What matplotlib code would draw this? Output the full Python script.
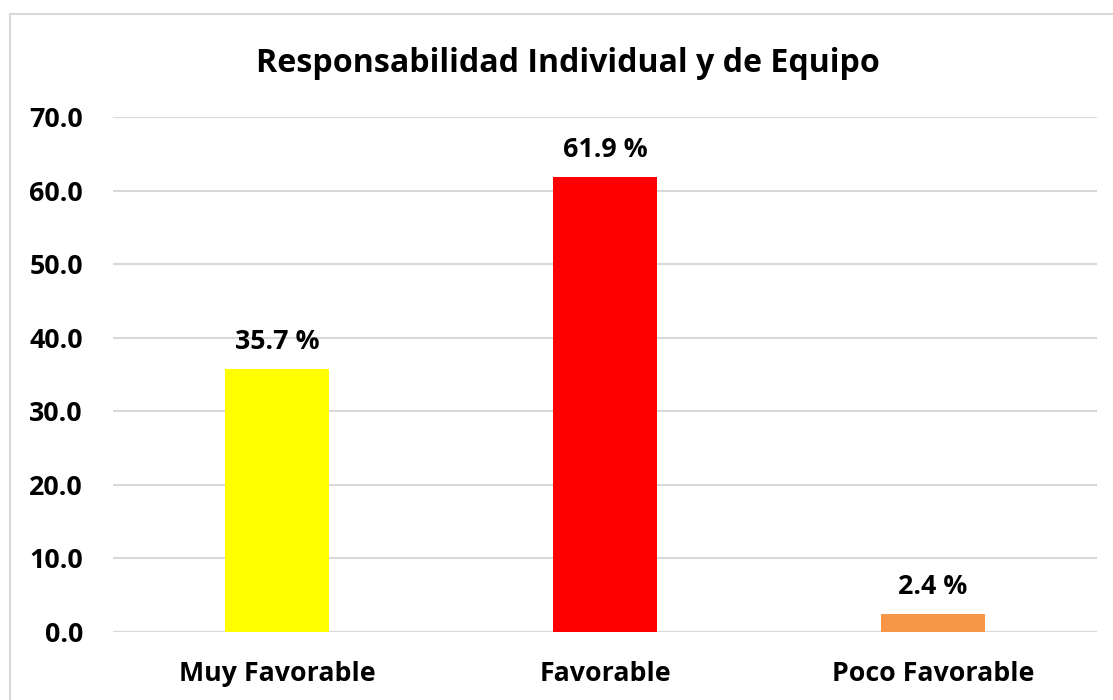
import matplotlib
matplotlib.use("Agg")
import matplotlib.pyplot as plt
from matplotlib.patches import Rectangle

categories = ["Muy Favorable", "Favorable", "Poco Favorable"]
values = [35.7, 61.9, 2.4]
colors = ["#FFFF00", "#FF0000", "#F79646"]
yticks = [0, 10, 20, 30, 40, 50, 60, 70]
title = "Responsabilidad Individual y de Equipo"

plt.rcParams['font.family'] = ['Open Sans', 'DejaVu Sans']
plt.rcParams['font.weight'] = 'bold'

W, H = 1113, 700
fig = plt.figure(figsize=(W/100, H/100), dpi=100)
fig.patch.set_facecolor("white")

# outer chart border
fig.patches.append(Rectangle((9.5/W, -0.05), 1.2, (H-13.5)/H + 0.05, transform=fig.transFigure,
                             fill=False, edgecolor="#D9D9D9", linewidth=1.5, zorder=0))

left, right = 113/W, 1097/W
bottom, top = (H-632)/H, (H-117)/H
ax = fig.add_axes([left, bottom, right-left, top-bottom])

x = range(len(categories))
ax.bar(x, values, width=0.317, color=colors, zorder=3)
ax.set_xlim(-0.5, 2.5)
ax.set_ylim(0, 70)
ax.set_yticks(yticks)
fs = 19.3
ax.set_yticklabels([f"{v:.1f}" for v in yticks], fontsize=fs, fontweight='bold')
ax.set_xticks(list(x))
ax.set_xticklabels(categories, fontsize=fs, fontweight='bold')
ax.tick_params(axis='both', length=0)
ax.tick_params(axis='y', pad=21.6)
ax.tick_params(axis='x', pad=21)
for s in ax.spines.values():
    s.set_visible(False)
ax.grid(axis='y', color="#D9D9D9", linewidth=1.5, zorder=0)
ax.set_axisbelow(True)

for xi, v in zip(x, values):
    ax.annotate(f"{v:.1f} %", (xi, v), xytext=(0, 14.4), textcoords='offset points',
                ha='center', va='baseline', fontsize=fs, fontweight='bold')

fig.text(568/W, (H-72)/H, title, ha='center', va='baseline',
         fontsize=23.1, fontweight='bold')

fig.savefig("out.png", dpi=100)
